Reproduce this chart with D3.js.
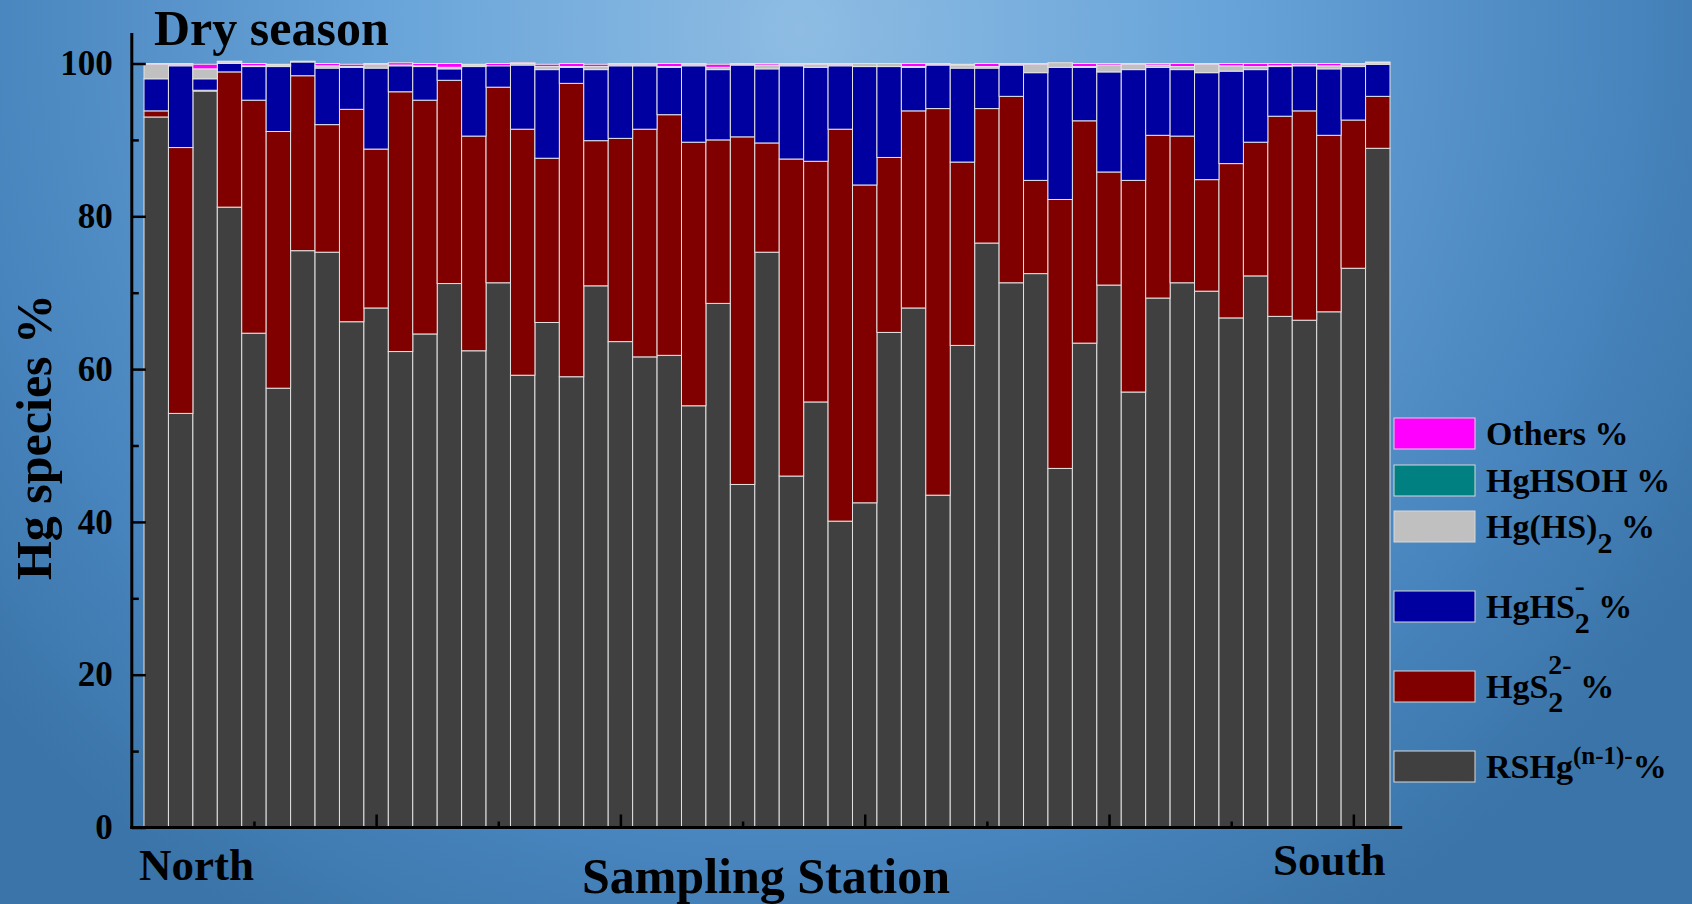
<!DOCTYPE html>
<html>
<head>
<meta charset="utf-8">
<script src="https://cdn.jsdelivr.net/npm/d3@7"></script>
<style>
  body { margin: 0; }
  svg text { font-family: "Liberation Serif", "Times New Roman", serif; font-weight: bold; fill: #000; }
</style>
</head>
<body>
<div id="chart"></div>
<script>
// stations 1..51, North -> South
const stations = d3.range(1, 52);

const rshg = [93.0, 54.2, 96.4, 81.2, 64.7, 57.5, 75.5, 75.3, 66.2, 68.0,
              62.3, 64.6, 71.2, 62.4, 71.3, 59.2, 66.1, 59.0, 70.9, 63.6,
              61.6, 61.8, 55.2, 68.6, 44.9, 75.3, 46.0, 55.7, 40.1, 42.5,
              64.8, 68.0, 43.5, 63.1, 76.5, 71.3, 72.5, 47.0, 63.4, 71.0,
              57.0, 69.3, 71.3, 70.2, 66.7, 72.2, 66.9, 66.4, 67.5, 73.2, 88.9];
const hgs2 = [0.8, 34.8, 0.1, 17.7, 30.5, 33.6, 22.9, 16.7, 27.8, 20.8,
              34.0, 30.6, 26.6, 28.1, 25.6, 32.2, 21.5, 38.4, 19.0, 26.6,
              29.8, 31.5, 34.5, 21.4, 45.5, 14.3, 41.5, 31.5, 51.3, 41.6,
              22.9, 25.8, 50.6, 24.0, 17.6, 24.4, 12.2, 35.2, 29.1, 14.8,
              27.7, 21.3, 19.2, 14.6, 20.2, 17.5, 26.2, 27.4, 23.1, 19.4, 6.8];
const hghs2 = [4.2, 10.7, 1.5, 1.1, 4.4, 8.5, 1.8, 7.4, 5.5, 10.6,
               3.4, 4.4, 1.5, 9.1, 2.8, 8.4, 11.6, 2.1, 9.3, 9.5,
               8.3, 6.2, 10.0, 9.2, 9.4, 9.7, 12.2, 12.3, 8.3, 15.5,
               11.9, 5.7, 5.7, 12.3, 5.3, 4.1, 14.1, 17.3, 7.0, 13.1,
               14.5, 8.9, 8.7, 14.0, 12.1, 9.5, 6.5, 5.9, 8.7, 7.0, 4.2];
const hghs2n = [1.9, 0.2, 1.3, 0.2, 0.1, 0.2, 0.1, 0.3, 0.1, 0.5,
                0.1, 0.1, 0.2, 0.2, 0.0, 0.2, 0.4, 0.1, 0.4, 0.2,
                0.2, 0.1, 0.2, 0.3, 0.1, 0.5, 0.2, 0.4, 0.2, 0.4,
                0.4, 0.1, 0.1, 0.4, 0.2, 0.1, 1.1, 0.6, 0.1, 0.9,
                0.7, 0.3, 0.4, 1.1, 0.7, 0.4, 0.1, 0.1, 0.4, 0.3, 0.2];
const hghsoh = [0, 0, 0, 0, 0, 0, 0, 0, 0, 0,
                0, 0, 0, 0, 0, 0, 0, 0, 0, 0,
                0, 0, 0, 0, 0, 0, 0, 0, 0, 0,
                0, 0, 0, 0, 0, 0, 0, 0, 0, 0,
                0, 0, 0, 0, 0, 0, 0, 0, 0, 0, 0];
const others = [0.1, 0.1, 0.6, 0.1, 0.3, 0.1, 0.0, 0.3, 0.3, 0.1,
                0.3, 0.3, 0.5, 0.1, 0.3, 0.1, 0.3, 0.4, 0.3, 0.1,
                0.1, 0.4, 0.1, 0.4, 0.1, 0.2, 0.1, 0.1, 0.1, 0.0,
                0.0, 0.4, 0.1, 0.1, 0.4, 0.1, 0.1, 0.0, 0.4, 0.2,
                0.1, 0.2, 0.4, 0.1, 0.3, 0.4, 0.3, 0.2, 0.3, 0.1, 0.1];

const keys = ["rshg", "hgs2", "hghs2", "hghs2n", "hghsoh", "others"];
const colors = ["#404040", "#800000", "#0000a0", "#c0c0c0", "#008080", "#ff00ff"];
const yTicks = [0, 20, 40, 60, 80, 100];
const yMinor = [10, 30, 50, 70, 90];
const xMajor = [10, 20, 30, 40, 50];
const xMinor = [5, 15, 25, 35, 45];

const rows = stations.map((s, i) => ({
    station: s, rshg: rshg[i], hgs2: hgs2[i], hghs2: hghs2[i],
    hghs2n: hghs2n[i], hghsoh: hghsoh[i], others: others[i]
}));

const width = 1692, height = 904;

const svg = d3.select("#chart").append("svg")
    .attr("width", width)
    .attr("height", height);

// background
const grad = svg.append("defs").append("radialGradient")
    .attr("id", "bg")
    .attr("gradientUnits", "userSpaceOnUse")
    .attr("cx", 800).attr("cy", 30).attr("r", 1050);
[[0, "#8ebce3"], [0.4, "#68a4d9"], [0.8, "#4783bc"], [1, "#3a74a8"]].forEach(s => {
    grad.append("stop").attr("offset", s[0]).attr("stop-color", s[1]);
});
svg.append("rect").attr("width", width).attr("height", height).attr("fill", "url(#bg)");

const x = d3.scaleLinear().domain([0, 52]).range([131.8, 1402.2]);
const y = d3.scaleLinear().domain([0, 100]).range([827.5, 63.5]);
const bw = x(1) - x(0);

const stacked = d3.stack().keys(keys)(rows);

svg.append("g")
    .selectAll("g")
    .data(stacked)
    .join("g")
    .attr("fill", (d, i) => colors[i])
    .selectAll("rect")
    .data(d => d.filter(p => p[1] - p[0] > 0))
    .join("rect")
    .attr("x", d => x(d.data.station) - bw / 2)
    .attr("width", bw)
    .attr("y", d => y(d[1]))
    .attr("height", d => y(d[0]) - y(d[1]))
    .attr("stroke", "#e2e2e2")
    .attr("stroke-width", 1);

// y axis
const yAxisG = svg.append("g").attr("transform", `translate(${x(0)},0)`);
yAxisG.append("g")
    .call(d3.axisLeft(y).tickValues(yTicks).tickSize(-14).tickPadding(19))
    .call(g => g.select(".domain").remove())
    .call(g => g.selectAll("line").attr("stroke", "#000").attr("stroke-width", 2.5))
    .call(g => g.selectAll("text").style("font-size", "35px")
        .style("font-family", "'Liberation Serif', serif").style("font-weight", "bold"));
yAxisG.append("g")
    .call(d3.axisLeft(y).tickValues(yMinor).tickSize(-7).tickFormat(""))
    .call(g => g.select(".domain").remove())
    .call(g => g.selectAll("line").attr("stroke", "#000").attr("stroke-width", 2.5));
yAxisG.append("line")
    .attr("y1", y(104)).attr("y2", y(0) + 1.5)
    .attr("stroke", "#000").attr("stroke-width", 3);

// x axis
const xAxisG = svg.append("g").attr("transform", `translate(0,${y(0)})`);
xAxisG.append("g")
    .call(d3.axisBottom(x).tickValues(xMajor).tickSize(-13).tickFormat(""))
    .call(g => g.select(".domain").remove())
    .call(g => g.selectAll("line").attr("stroke", "#000").attr("stroke-width", 2.5));
xAxisG.append("g")
    .call(d3.axisBottom(x).tickValues(xMinor).tickSize(-6).tickFormat(""))
    .call(g => g.select(".domain").remove())
    .call(g => g.selectAll("line").attr("stroke", "#000").attr("stroke-width", 2.5));
xAxisG.append("line")
    .attr("x1", x(0) - 1.5).attr("x2", x(52))
    .attr("stroke", "#000").attr("stroke-width", 3);

// titles
svg.append("text")
    .attr("x", 154).attr("y", 45)
    .style("font-size", "50px")
    .text("Dry season");

svg.append("text")
    .attr("transform", "translate(51,437) rotate(-90)")
    .attr("text-anchor", "middle")
    .style("font-size", "50px")
    .text("Hg species %");

svg.append("text")
    .attr("x", 766).attr("y", 893)
    .attr("text-anchor", "middle")
    .style("font-size", "50px")
    .text("Sampling Station");

svg.append("text")
    .attr("x", 139).attr("y", 880)
    .style("font-size", "45px")
    .text("North");

svg.append("text")
    .attr("x", 1273).attr("y", 875)
    .style("font-size", "45px")
    .text("South");

// legend (top to bottom)
const legendItems = [
    { key: "others", top: 418, parts: [{ t: "Others %" }] },
    { key: "hghsoh", top: 465, parts: [{ t: "HgHSOH %" }] },
    { key: "hghs2n", top: 511, parts: [{ t: "Hg(HS)" }, { t: "2", sub: 15, size: 30 }, { t: " %" }] },
    { key: "hghs2", top: 591, parts: [{ t: "HgHS" }, { t: "-", sup: -22, size: 30, hold: true }, { t: "2", sub: 15, size: 30 }, { t: " %" }] },
    { key: "hgs2", top: 671, parts: [{ t: "HgS" }, { t: "2-", sup: -24, size: 28, hold: true }, { t: "2", sub: 14, size: 30 }, { t: " %" }] },
    { key: "rshg", top: 751, parts: [{ t: "RSHg" }, { t: "(n-1)-", sup: -14, size: 25 }, { t: "%" }] }
];

const legend = svg.append("g");
legendItems.forEach(item => {
    legend.append("rect")
        .attr("x", 1394).attr("y", item.top)
        .attr("width", 81).attr("height", 31)
        .attr("fill", colors[keys.indexOf(item.key)])
        .attr("stroke", "#d8d8d8").attr("stroke-width", 1);
    const base = item.top + 27;
    let cx = 1486, held = 0;
    item.parts.forEach(p => {
        const txt = legend.append("text")
            .attr("x", cx)
            .attr("y", base + (p.sub || 0) + (p.sup || 0))
            .style("font-size", (p.size || 34) + "px")
            .style("white-space", "pre")
            .text(p.t);
        const w = txt.node().getComputedTextLength();
        if (p.hold) {
            held = w;
        } else {
            cx += Math.max(w, held);
            held = 0;
        }
    });
});
</script>
</body>
</html>
